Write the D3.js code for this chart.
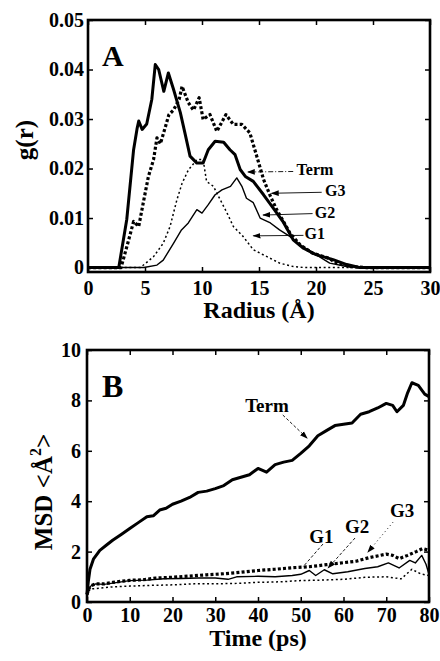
<!DOCTYPE html>
<html><head><meta charset="utf-8">
<script src="https://cdn.jsdelivr.net/npm/d3@7"></script>
<style>
body{margin:0;background:#fff;}
svg text{font-family:"Liberation Serif","Times New Roman",serif;font-weight:bold;fill:#000;}
</style></head><body><div id="chart"></div>
<script>
// ---- panel A : g(r) vs radius ----
const radiusTicks = [0, 5, 10, 15, 20, 25, 30];
const grTicks = [0, 0.01, 0.02, 0.03, 0.04, 0.05];
const grTickLabels = ["0", "0.01", "0.02", "0.03", "0.04", "0.05"];

const grTerm = [[0,0],[2.9,0],[3.5,0.005],[4.0,0.0093],[4.45,0.0083],[4.9,0.0137],[5.3,0.0184],[5.75,0.0218],[6.05,0.0262],[6.35,0.0250],[6.8,0.0285],[7.1,0.0309],[7.5,0.0318],[8.0,0.0340],[8.25,0.0366],[8.8,0.0333],[9.25,0.0318],[9.75,0.0343],[10.1,0.0299],[10.7,0.0309],[11.3,0.0275],[12.1,0.0309],[12.75,0.0289],[13.5,0.0289],[14.2,0.0272],[14.8,0.0225],[15.4,0.0178],[16.0,0.0144],[16.55,0.0117],[17.1,0.0095],[17.7,0.0070],[18.6,0.0046],[19.7,0.0029],[21.1,0.0019],[21.9,0.0008],[23.0,0.0002],[24.4,0],[30,0]];
const grG3 = [[0,0],[2.7,0],[3.4,0.0097],[4.0,0.0238],[4.3,0.0280],[4.45,0.0296],[4.75,0.0279],[5.15,0.0290],[5.6,0.0340],[5.9,0.0410],[6.2,0.0400],[6.65,0.0356],[7.05,0.0393],[7.5,0.0360],[8.1,0.0313],[8.5,0.0272],[8.95,0.0225],[9.55,0.0211],[10.1,0.0211],[10.55,0.0238],[11.15,0.0255],[11.9,0.0253],[12.45,0.0238],[12.9,0.0228],[13.35,0.0198],[13.8,0.0184],[14.5,0.0174],[15.4,0.0147],[16.25,0.0120],[17.1,0.0093],[18.0,0.0056],[18.9,0.0039],[20.0,0.0026],[21.5,0.0016],[22.7,0.0006],[23.8,0],[30,0]];
const grG2 = [[0,0],[4.9,0],[6.05,0.0005],[6.6,0.0015],[7.5,0.0049],[8.2,0.0076],[8.8,0.0090],[9.55,0.0117],[10.0,0.0110],[10.55,0.0127],[11.15,0.0147],[11.75,0.0157],[12.5,0.0164],[13.05,0.0181],[13.5,0.0164],[13.9,0.0140],[14.5,0.0131],[15.1,0.0100],[16.0,0.0090],[16.8,0.0076],[17.7,0.0063],[18.6,0.0046],[20.0,0.0026],[21.2,0.0009],[22.7,0.0002],[23.8,0],[30,0]];
const grG1 = [[0,0],[4.6,0],[5.75,0.0022],[6.6,0.0049],[7.2,0.0083],[7.8,0.0137],[8.25,0.0170],[8.8,0.0197],[9.55,0.0218],[10.1,0.0218],[10.4,0.0174],[11.0,0.0164],[11.6,0.0137],[12.2,0.0110],[12.75,0.0083],[13.6,0.0063],[14.5,0.0036],[15.7,0.0022],[16.8,0.0009],[18.0,0.0002],[19.0,0],[30,0]];

// label name, text position [r, g], arrow from [r, g] to [r, g]
const grNotes = [
  {name: "Term", at: [18.3, 0.0186], from: [18.0, 0.0194], to: [14.0, 0.0193], dash: "5,2,1,2"},
  {name: "G3", at: [20.8, 0.0144], from: [20.5, 0.0152], to: [16.1, 0.0150], dash: null},
  {name: "G2", at: [19.9, 0.0101], from: [19.7, 0.0109], to: [15.35, 0.0106], dash: null},
  {name: "G1", at: [19.0, 0.0057], from: [18.9, 0.0065], to: [14.5, 0.0064], dash: null}
];

// ---- panel B : MSD vs time ----
const timeTicks = [0, 10, 20, 30, 40, 50, 60, 70, 80];
const msdTicks = [0, 2, 4, 6, 8, 10];

const msdTerm = [[0,0.3],[0.3,0.8],[0.7,1.3],[1.5,1.7],[3,2.05],[4.5,2.25],[6,2.45],[8,2.68],[10,2.92],[12,3.15],[14,3.38],[15.5,3.42],[17,3.65],[18.5,3.72],[20,3.88],[22,4.0],[24,4.15],[26,4.35],[28,4.4],[30,4.5],[32,4.62],[34,4.85],[36,4.95],[38,5.05],[40,5.3],[42,5.15],[44,5.45],[46,5.55],[48,5.62],[50,5.9],[52,6.2],[54,6.6],[56,6.8],[58,7.0],[60,7.05],[62,7.1],[64,7.45],[66,7.55],[68,7.7],[70,7.88],[71.5,7.8],[72.5,7.55],[74,7.8],[75,8.3],[76,8.7],[77.5,8.6],[79,8.25],[80,8.15]];
const msdG3 = [[0,0.3],[0.5,0.55],[1,0.65],[2,0.72],[4,0.72],[6,0.78],[8,0.82],[10,0.86],[13,0.88],[16,0.95],[20,0.98],[24,1.03],[28,1.08],[32,1.12],[36,1.18],[40,1.25],[44,1.3],[48,1.36],[52,1.4],[56,1.48],[60,1.56],[63,1.62],[66,1.76],[70,1.9],[71.5,1.85],[73,1.72],[75,1.85],[77,2.0],[78.5,2.12],[80,2.05]];
const msdG2 = [[0,0.3],[0.5,0.55],[1,0.65],[2,0.72],[4,0.7],[6,0.75],[10,0.85],[14,0.87],[18,0.92],[22,0.93],[26,0.95],[30,0.95],[33,0.9],[35,1.0],[40,1.02],[44,1.0],[48,1.05],[50,1.1],[52,1.25],[53.5,1.05],[55.5,1.28],[57.5,1.12],[61,1.2],[65,1.33],[68,1.4],[70.5,1.55],[73,1.35],[75.5,1.65],[76.8,1.55],[78.3,1.85],[79.3,1.5],[80,1.1]];
const msdG1 = [[0,0.25],[0.5,0.45],[1,0.52],[3,0.55],[6,0.6],[10,0.63],[15,0.66],[20,0.68],[25,0.72],[30,0.72],[35,0.74],[40,0.78],[45,0.8],[50,0.85],[55,0.87],[60,0.9],[65,0.98],[70,1.0],[72,0.95],[73.5,0.92],[76,1.3],[78,1.12],[80,1.05]];

const msdNotes = [
  {name: "Term", at: [42.1, 7.54], from: [45.8, 7.42], to: [51.5, 6.5], dash: "3,2", arrow: true},
  {name: "G1", at: [54.8, 2.34], from: [55.2, 2.3], to: [50.5, 1.39], dash: "3,2", arrow: false},
  {name: "G2", at: [63.2, 2.74], from: [62.7, 2.54], to: [56.4, 1.35], dash: "3,2", arrow: true},
  {name: "G3", at: [73.7, 3.37], from: [71.6, 3.17], to: [65.7, 1.98], dash: "1,3", arrow: true}
];

const W = 440, H = 661;
const svg = d3.select("#chart").append("svg").attr("width", W).attr("height", H);

svg.append("defs").append("marker")
    .attr("id", "arr").attr("viewBox", "0 0 10 10")
    .attr("refX", 9).attr("refY", 5)
    .attr("markerWidth", 8).attr("markerHeight", 8)
    .attr("markerUnits", "userSpaceOnUse")
    .attr("orient", "auto")
  .append("path").attr("d", "M0,1.5L10,5L0,8.5Z").attr("fill", "#000");

const styles = {
  thick: {w: 3, dash: null},
  thickDot: {w: 3.2, dash: "3,2.2"},
  thin: {w: 1.4, dash: null},
  thinDot: {w: 1.5, dash: "2,2.6"}
};

function panel(o) {
    const x = d3.scaleLinear().domain(o.xDomain).range([o.left, o.right]);
    const y = d3.scaleLinear().domain(o.yDomain).range([o.bottom, o.top]);
    const g = svg.append("g");

    const bottomAxis = d3.axisBottom(x).tickValues(o.xTicks).tickSizeInner(-5).tickSizeOuter(0).tickPadding(o.xPad);
    const leftAxis = d3.axisLeft(y).tickValues(o.yTicks).tickSizeInner(-5).tickSizeOuter(0).tickPadding(o.yPad)
        .tickFormat((d, i) => o.yLabels[i]);

    g.append("g").attr("transform", `translate(0,${o.bottom})`).call(bottomAxis);
    g.append("g").attr("transform", `translate(0,${o.top})`)
        .call(d3.axisTop(x).tickValues(o.xTicks).tickSizeInner(-5).tickSizeOuter(0).tickFormat(""));
    g.append("g").attr("transform", `translate(${o.left},0)`).call(leftAxis);
    g.append("g").attr("transform", `translate(${o.right},0)`)
        .call(d3.axisRight(y).tickValues(o.yTicks).tickSizeInner(-5).tickSizeOuter(0).tickFormat(""));
    g.selectAll(".domain").remove();
    g.selectAll(".tick line").attr("stroke", "#000").attr("stroke-width", 1.5);
    g.selectAll(".tick text").attr("font-size", 20).attr("fill", "#000")
        .attr("font-family", '"Liberation Serif", serif').attr("font-weight", "bold");

    const line = d3.line().x(d => x(d[0])).y(d => y(d[1]));
    o.series.forEach(s => {
        const st = styles[s.style];
        g.append("path").datum(s.data)
            .attr("d", line)
            .attr("fill", "none").attr("stroke", "#000")
            .attr("stroke-width", st.w)
            .attr("stroke-dasharray", st.dash)
            .attr("stroke-linejoin", "round");
    });

    g.append("rect")
        .attr("x", o.left).attr("y", o.top)
        .attr("width", o.right - o.left).attr("height", o.bottom - o.top)
        .attr("fill", "none").attr("stroke", "#000").attr("stroke-width", 2.6);

    o.notes.forEach(n => {
        g.append("line")
            .attr("x1", x(n.from[0])).attr("y1", y(n.from[1]))
            .attr("x2", x(n.to[0])).attr("y2", y(n.to[1]))
            .attr("stroke", "#000").attr("stroke-width", 0.9)
            .attr("stroke-dasharray", n.dash)
            .attr("marker-end", n.arrow === false ? null : "url(#arr)");
        g.append("text")
            .attr("x", x(n.at[0])).attr("y", y(n.at[1]))
            .attr("text-anchor", o.noteAnchor)
            .attr("font-size", o.noteSize)
            .text(n.name);
    });

    g.append("text").attr("x", o.letterX).attr("y", o.letterY)
        .attr("font-size", o.letterSize).text(o.letter);

    g.append("text")
        .attr("x", (o.left + o.right) / 2).attr("y", o.xTitleY)
        .attr("text-anchor", "middle").attr("font-size", 24)
        .text(o.xTitle);

    const yt = g.append("text")
        .attr("transform", `translate(${o.yTitleX},${(o.top + o.bottom) / 2 + o.yTitleShift}) rotate(-90)`)
        .attr("text-anchor", "middle").attr("font-size", 25);
    o.yTitle(yt);
}

panel({
    xDomain: [0, 30], yDomain: [-0.0009, 0.05],
    left: 88, right: 430, top: 20, bottom: 272,
    xTicks: radiusTicks, yTicks: grTicks, yLabels: grTickLabels,
    xPad: 9, yPad: 4,
    series: [
        {data: grG1, style: "thinDot"},
        {data: grG2, style: "thin"},
        {data: grTerm, style: "thickDot"},
        {data: grG3, style: "thick"}
    ],
    notes: grNotes, noteAnchor: "start", noteSize: 16,
    letter: "A", letterX: 102, letterY: 66, letterSize: 30,
    xTitle: "Radius (Å)", xTitleY: 318,
    yTitleX: 33, yTitleShift: -6,
    yTitle: t => t.text("g(r)")
});

panel({
    xDomain: [0, 80], yDomain: [0, 10],
    left: 87, right: 429, top: 350, bottom: 602,
    xTicks: timeTicks, yTicks: msdTicks, yLabels: msdTicks.map(String),
    xPad: 6, yPad: 6,
    series: [
        {data: msdG1, style: "thinDot"},
        {data: msdG2, style: "thin"},
        {data: msdG3, style: "thickDot"},
        {data: msdTerm, style: "thick"}
    ],
    notes: msdNotes, noteAnchor: "middle", noteSize: 19,
    letter: "B", letterX: 102, letterY: 397, letterSize: 32,
    xTitle: "Time (ps)", xTitleY: 646,
    yTitleX: 52, yTitleShift: 16,
    yTitle: t => {
        t.append("tspan").text("MSD <Å");
        t.append("tspan").attr("font-size", 16).attr("dy", -11).text("2");
        t.append("tspan").attr("dy", 11).text(">");
    }
});
</script>
</body></html>
